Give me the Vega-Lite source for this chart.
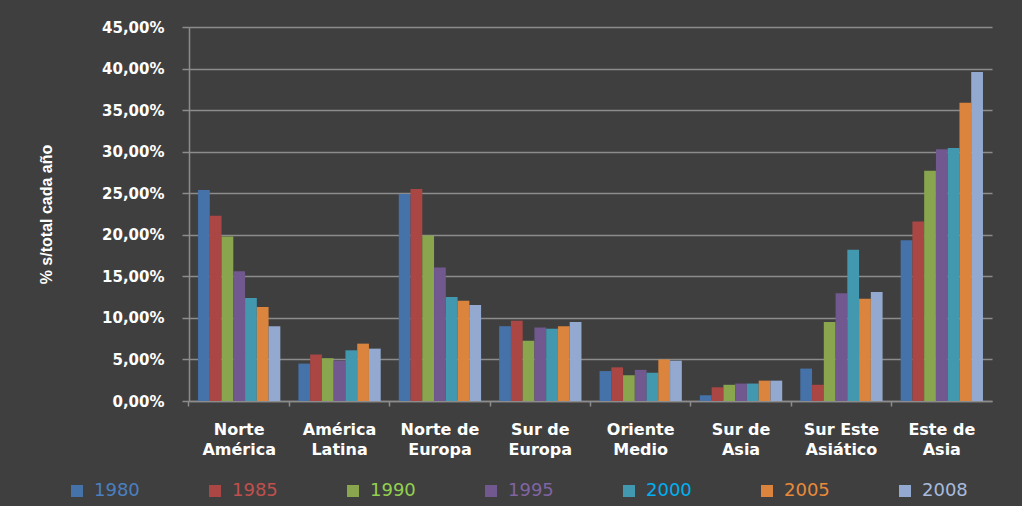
{
  "$schema": "https://vega.github.io/schema/vega-lite/v6.json",
  "width": 803,
  "height": 374,
  "autosize": "none",
  "padding": {"left": 189, "top": 27, "right": 30, "bottom": 105},
  "background": "#3F3F3F",
  "data": {"values": [
    {"region": "Norte América", "year": "1980", "pct": 25.4},
    {"region": "Norte América", "year": "1985", "pct": 22.3},
    {"region": "Norte América", "year": "1990", "pct": 19.8},
    {"region": "Norte América", "year": "1995", "pct": 15.6},
    {"region": "Norte América", "year": "2000", "pct": 12.4},
    {"region": "Norte América", "year": "2005", "pct": 11.3},
    {"region": "Norte América", "year": "2008", "pct": 9.0},
    {"region": "América Latina", "year": "1980", "pct": 4.5},
    {"region": "América Latina", "year": "1985", "pct": 5.6},
    {"region": "América Latina", "year": "1990", "pct": 5.15},
    {"region": "América Latina", "year": "1995", "pct": 4.85},
    {"region": "América Latina", "year": "2000", "pct": 6.1},
    {"region": "América Latina", "year": "2005", "pct": 6.9},
    {"region": "América Latina", "year": "2008", "pct": 6.3},
    {"region": "Norte de Europa", "year": "1980", "pct": 24.9},
    {"region": "Norte de Europa", "year": "1985", "pct": 25.5},
    {"region": "Norte de Europa", "year": "1990", "pct": 19.9},
    {"region": "Norte de Europa", "year": "1995", "pct": 16.05},
    {"region": "Norte de Europa", "year": "2000", "pct": 12.5},
    {"region": "Norte de Europa", "year": "2005", "pct": 12.05},
    {"region": "Norte de Europa", "year": "2008", "pct": 11.55},
    {"region": "Sur de Europa", "year": "1980", "pct": 9.0},
    {"region": "Sur de Europa", "year": "1985", "pct": 9.65},
    {"region": "Sur de Europa", "year": "1990", "pct": 7.25},
    {"region": "Sur de Europa", "year": "1995", "pct": 8.85},
    {"region": "Sur de Europa", "year": "2000", "pct": 8.7},
    {"region": "Sur de Europa", "year": "2005", "pct": 9.0},
    {"region": "Sur de Europa", "year": "2008", "pct": 9.5},
    {"region": "Oriente Medio", "year": "1980", "pct": 3.6},
    {"region": "Oriente Medio", "year": "1985", "pct": 4.05},
    {"region": "Oriente Medio", "year": "1990", "pct": 3.1},
    {"region": "Oriente Medio", "year": "1995", "pct": 3.75},
    {"region": "Oriente Medio", "year": "2000", "pct": 3.4},
    {"region": "Oriente Medio", "year": "2005", "pct": 5.0},
    {"region": "Oriente Medio", "year": "2008", "pct": 4.85},
    {"region": "Sur de Asia", "year": "1980", "pct": 0.7},
    {"region": "Sur de Asia", "year": "1985", "pct": 1.65},
    {"region": "Sur de Asia", "year": "1990", "pct": 1.95},
    {"region": "Sur de Asia", "year": "1995", "pct": 2.1},
    {"region": "Sur de Asia", "year": "2000", "pct": 2.1},
    {"region": "Sur de Asia", "year": "2005", "pct": 2.45},
    {"region": "Sur de Asia", "year": "2008", "pct": 2.45},
    {"region": "Sur Este Asiático", "year": "1980", "pct": 3.9},
    {"region": "Sur Este Asiático", "year": "1985", "pct": 1.95},
    {"region": "Sur Este Asiático", "year": "1990", "pct": 9.5},
    {"region": "Sur Este Asiático", "year": "1995", "pct": 12.95},
    {"region": "Sur Este Asiático", "year": "2000", "pct": 18.2},
    {"region": "Sur Este Asiático", "year": "2005", "pct": 12.3},
    {"region": "Sur Este Asiático", "year": "2008", "pct": 13.1},
    {"region": "Este de Asia", "year": "1980", "pct": 19.35},
    {"region": "Este de Asia", "year": "1985", "pct": 21.6},
    {"region": "Este de Asia", "year": "1990", "pct": 27.7},
    {"region": "Este de Asia", "year": "1995", "pct": 30.3},
    {"region": "Este de Asia", "year": "2000", "pct": 30.45},
    {"region": "Este de Asia", "year": "2005", "pct": 35.9},
    {"region": "Este de Asia", "year": "2008", "pct": 39.6}
  ]},
  "mark": {"type": "bar"},
  "encoding": {
    "x": {
      "field": "region", "type": "nominal",
      "sort": ["Norte América", "América Latina", "Norte de Europa", "Sur de Europa", "Oriente Medio", "Sur de Asia", "Sur Este Asiático", "Este de Asia"],
      "scale": {"paddingInner": 0.18, "paddingOuter": 0.09},
      "axis": {
        "title": null,
        "labelAngle": 0,
        "labelExpr": "[slice(datum.value, 0, lastindexof(datum.value, ' ')), slice(datum.value, lastindexof(datum.value, ' ') + 1)]",
        "labelFont": "DejaVu Sans",
        "labelFontSize": 16,
        "labelFontWeight": "bold",
        "labelColor": "#FFFFFF",
        "labelLineHeight": 20,
        "labelPadding": 15,
        "labelLimit": 0,
        "tickSize": 5,
        "tickColor": "#8C8C8C",
        "tickWidth": 1.5,
        "bandPosition": -0.11,
        "domainColor": "#8C8C8C",
        "domainWidth": 1.5,
        "grid": false
      }
    },
    "xOffset": {
      "field": "year", "type": "nominal",
      "scale": {"paddingInner": 0, "paddingOuter": 0}
    },
    "y": {
      "field": "pct", "type": "quantitative",
      "scale": {"domain": [0, 45], "nice": false},
      "axis": {
        "title": "% s/total cada año",
        "titleFont": "Liberation Sans Narrow, Liberation Sans",
        "titleFontSize": 16,
        "titleFontWeight": "bold",
        "titleColor": "#FFFFFF",
        "titlePadding": 47,
        "values": [0, 5, 10, 15, 20, 25, 30, 35, 40, 45],
        "labelExpr": "replace(format(datum.value, '.2f'), '.', ',') + '%'",
        "labelFont": "DejaVu Sans",
        "labelFontSize": 15,
        "labelFontWeight": "bold",
        "labelColor": "#FFFFFF",
        "labelPadding": 18,
        "tickSize": 7,
        "tickColor": "#8C8C8C",
        "tickWidth": 1.5,
        "domainColor": "#8C8C8C",
        "domainWidth": 1.5,
        "grid": true,
        "gridColor": "#8C8C8C",
        "gridWidth": 1.5
      }
    },
    "color": {
      "field": "year", "type": "nominal",
      "scale": {
        "domain": ["1980", "1985", "1990", "1995", "2000", "2005", "2008"],
        "range": ["#4672AA", "#AA4643", "#89A54E", "#71588F", "#4198AF", "#DB843D", "#93A9CF"]
      },
      "legend": {
        "title": null,
        "orient": "none",
        "legendX": -121,
        "legendY": 455,
        "direction": "horizontal",
        "columns": 7,
        "columnPadding": 66,
        "padding": 0,
        "symbolType": "square",
        "symbolSize": 144,
        "symbolStrokeWidth": 0,
        "labelFont": "DejaVu Sans",
        "labelFontSize": 18,
        "labelOffset": 8,
        "encode": {
          "labels": {
            "update": {
              "fill": {"signal": "datum.label == '1980' ? '#4A7FC1' : datum.label == '1985' ? '#C0504D' : datum.label == '1990' ? '#92D050' : datum.label == '1995' ? '#8064A2' : datum.label == '2000' ? '#00B0F0' : datum.label == '2005' ? '#E98A3A' : '#A8BBDD'"}
            }
          }
        }
      }
    }
  },
  "config": {
    "view": {"stroke": null}
  }
}
